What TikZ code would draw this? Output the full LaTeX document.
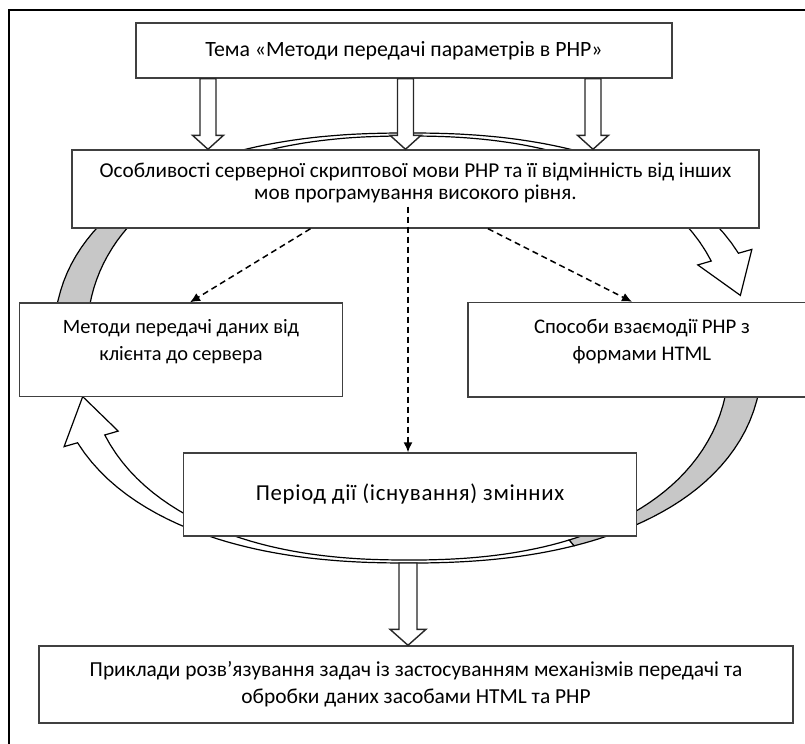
\documentclass[tikz,border=0pt]{standalone}
\usepackage{fontspec}
\setmainfont{Carlito}
\usetikzlibrary{calc,arrows.meta}

\tikzset{
  box/.style={draw=black!75, line width=0.7pt, fill=white, inner sep=0pt, align=center,
    font=\fontsize{10.6}{13.5}\selectfont},
  ringline/.style={draw=black, line width=0.6pt},
  graypart/.style={ringline, fill=black!22},
  whitepart/.style={ringline, fill=white},
  blockarrow/.style={draw=black!85, line width=0.7pt, fill=white},
  dasharrow/.style={draw=black, line width=0.75pt, dash pattern=on 3pt off 2pt,
    -{Latex[length=5pt,width=4.5pt]}},
  declare function={
    rout(\q)=355/((abs(cos(\q))+0.0001)^2.3+3.169*(abs(sin(\q))+0.0001)^2.3)^(1/2.3);
    rin(\q)=322/((abs(cos(\q))+0.0001)^2.3+2.615*(abs(sin(\q))+0.0001)^2.3)^(1/2.3);
  }
}

% point of the ring: angle, radius (centre of the ring at 408,348)
\newcommand{\ringpt}[2]{({408+(#2)*cos(#1)},{348+(#2)*sin(#1)})}
% hollow arrow pointing down: top, tip, half shaft, half head, head length
\newcommand{\hollowdown}[5]{%
  \draw[blockarrow] ($(#1)+(-#3,0)$) -- ($(#2)+(-#3,-#5)$) -- ($(#2)+(-#4,-#5)$) -- (#2)
    -- ($(#2)+(#4,-#5)$) -- ($(#2)+(#3,-#5)$) -- ($(#1)+(#3,0)$) -- cycle;}

\begin{document}
\begin{tikzpicture}[x=0.5pt, y=-0.5pt]
    \useasboundingbox (0,0) rectangle (805,744);

    % Frame (top and left edge)
    \draw[line width=1pt] (805,10) -- (9,10) -- (9,744);

    % Ring of curved arrows
    % grey, under the left box up to box 2
    \filldraw[graypart] plot[domain=180:225, samples=30, variable=\t] ({408+rout(\t)*cos(\t)},{348+rout(\t)*sin(\t)})
      -- plot[domain=225:180, samples=30, variable=\t] ({408+rin(\t)*cos(\t)},{348+rin(\t)*sin(\t)}) -- cycle;
    % white, over the top, head at the right box
    \filldraw[whitepart] plot[domain=225:344, samples=60, variable=\t] ({408+rout(\t)*cos(\t)},{348+rout(\t)*sin(\t)})
      -- \ringpt{344}{rout(344)+14} -- \ringpt{351}{(rout(351)+rin(351))/2} -- \ringpt{344}{rin(344)-14}
      -- plot[domain=344:225, samples=60, variable=\t] ({408+rin(\t)*cos(\t)},{348+rin(\t)*sin(\t)}) -- cycle;
    % grey, under the right box down to the middle box
    \filldraw[graypart] plot[domain=0:50, samples=30, variable=\t] ({408+rout(\t)*cos(\t)},{348+rout(\t)*sin(\t)})
      -- plot[domain=50:0, samples=30, variable=\t] ({408+rin(\t)*cos(\t)},{348+rin(\t)*sin(\t)}) -- cycle;
    % white, under the bottom, head at the left box
    \filldraw[whitepart] plot[domain=50:164, samples=60, variable=\t] ({408+rout(\t)*cos(\t)},{348+rout(\t)*sin(\t)})
      -- \ringpt{164}{rout(164)+14} -- \ringpt{171.5}{rin(171.5)+8} -- \ringpt{164}{rin(164)-14}
      -- plot[domain=164:50, samples=60, variable=\t] ({408+rin(\t)*cos(\t)},{348+rin(\t)*sin(\t)}) -- cycle;

    % Boxes
    \node[box, minimum width=268pt, minimum height=27.5pt, font=\fontsize{10.9}{13.5}\selectfont] (title) at (404,50.5)
      {Тема «Методи передачі параметрів в PHP»};
    \node[box, minimum width=343.5pt, minimum height=39pt, font=\fontsize{10.6}{11}\selectfont] (box2) at (415.5,189)
      {Особливості серверної скриптової мови PHP та її відмінність від інших\\мов програмування високого рівня.\\[-3pt]};
    \node[box, minimum width=161.75pt, minimum height=46.75pt, font=\fontsize{10.2}{13.5}\selectfont] (left) at (181,349.75)
      {Методи передачі даних від\\клієнта до сервера\\[-3.5pt]};
    % right box runs past the edge of the picture
    \node[box, minimum width=174pt, minimum height=47.25pt, font=\fontsize{10.4}{13.5}\selectfont] (right) at (642,349.75)
      {Способи взаємодії PHP з\\формами HTML\\[-3.5pt]};
    \node[box, minimum width=226.75pt, minimum height=41.5pt,
      font=\fontsize{11.4}{14}\selectfont\addfontfeature{LetterSpace=3}] (mid) at (410,494.5)
      {Період дії (існування) змінних};
    \node[box, minimum width=377pt, minimum height=38.5pt, font=\fontsize{10.7}{13.5}\selectfont] (final) at (416,684.5)
      {Приклади розв’язування задач із застосуванням механізмів передачі та\\обробки даних засобами HTML та PHP};

    % Hollow arrows from the title
    \coordinate (a1) at ($(title.south)+(-196,0)$);
    \coordinate (a2) at ($(title.south)+(1.5,0)$);
    \coordinate (a3) at ($(title.south)+(189,0)$);
    \coordinate (b1) at (a1 |- box2.north);
    \coordinate (b2) at (a2 |- box2.north);
    \coordinate (b3) at (a3 |- box2.north);
    \hollowdown{a1}{b1}{8}{15.5}{14}
    \hollowdown{a2}{b2}{8}{15.5}{14}
    \hollowdown{a3}{b3}{8}{15.5}{14}

    % Dashed arrows
    \draw[dasharrow] ($(box2.south)+(-105,0)$) -- ($(left.north)+(9,0)$);
    \draw[dasharrow] ($(box2.south)+(72.5,0)$) -- ($(right.north)+(-10,0)$);
    \coordinate (dtop) at ($(box2.south)+(-7.5,-22)$);
    \draw[dasharrow] (dtop) -- (dtop |- mid.north);

    % Hollow arrow to the last box
    \coordinate (ringbot) at (408,563);
    \coordinate (finaltop) at (ringbot |- final.north);
    \hollowdown{ringbot}{finaltop}{9}{18}{16}
\end{tikzpicture}
\end{document}
